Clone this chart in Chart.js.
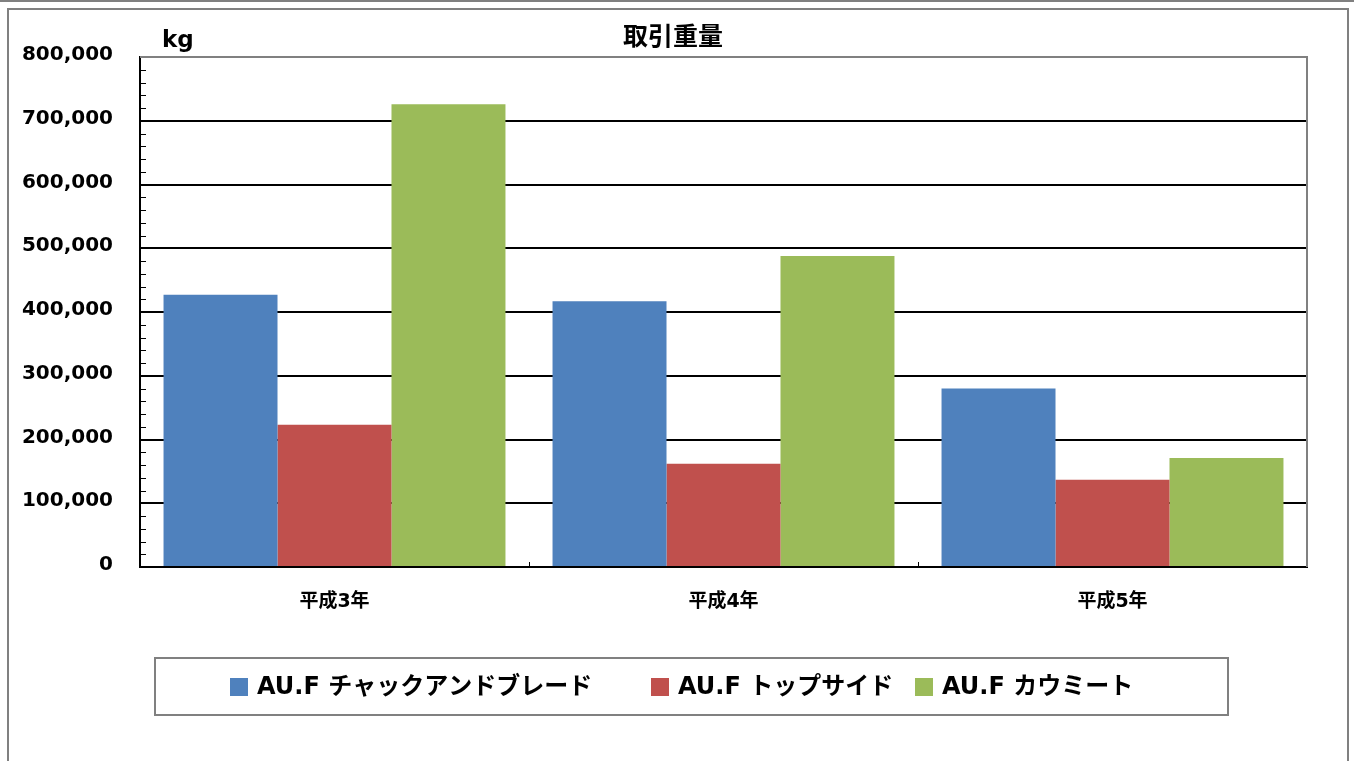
<!DOCTYPE html>
<html>
<head>
<meta charset="utf-8">
<script src="https://cdn.jsdelivr.net/npm/chart.js@4.4.1/dist/chart.umd.min.js"></script>
<style>
  html, body { margin: 0; padding: 0; background: #fff; overflow: hidden; }
  canvas { display: block; }
</style>
</head>
<body>
<canvas id="chart" width="1354" height="761"></canvas>
<script>
// ---- data ----
const categories = ['平成3年', '平成4年', '平成5年'];
const seriesNames = ['AU.F チャックアンドブレード', 'AU.F トップサイド', 'AU.F カウミート'];
const chuckAndBlade = [427000, 417000, 280000];
const topside = [223000, 162000, 137000];
const cowMeat = [726000, 488000, 171000];
const seriesColors = ['#4F81BD', '#C0504D', '#9BBB59'];
const yTickValues = [0, 100000, 200000, 300000, 400000, 500000, 600000, 700000, 800000];
const chartTitle = '取引重量';
const unitLabel = 'kg';

const FONT = '"DejaVu Sans", "Noto Sans CJK JP", sans-serif';
const GRAY = '#808080';

// outer frame around the whole chart
const framePlugin = {
  id: 'frame',
  beforeDraw(chart) {
    const ctx = chart.ctx;
    ctx.save();
    ctx.strokeStyle = GRAY;
    ctx.lineWidth = 2;
    ctx.beginPath();
    ctx.moveTo(0, 1); ctx.lineTo(chart.width, 1);
    ctx.stroke();
    ctx.strokeRect(8, 9, 1340, 800);
    ctx.restore();
  }
};

// plot border, minor ticks, category separators, title and unit
const decorPlugin = {
  id: 'decor',
  afterDraw(chart) {
    const ctx = chart.ctx;
    const a = chart.chartArea;
    const y = chart.scales.y;
    const x = chart.scales.x;
    ctx.save();
    // top and right border of plot area
    ctx.strokeStyle = GRAY;
    ctx.lineWidth = 2;
    ctx.beginPath();
    ctx.moveTo(a.left, a.top);
    ctx.lineTo(a.right, a.top);
    ctx.lineTo(a.right, a.bottom);
    ctx.stroke();
    // minor ticks on value axis
    ctx.strokeStyle = '#000';
    ctx.lineWidth = 1;
    ctx.beginPath();
    const step = 20000;
    for (let v = y.min; v <= y.max; v += step) {
      if (v % 100000 === 0) continue;
      const py = Math.round(y.getPixelForValue(v)) + 0.5;
      ctx.moveTo(a.left, py);
      ctx.lineTo(a.left + 6, py);
    }
    // separators between categories
    for (let i = 0; i < categories.length - 1; i++) {
      const px = Math.round((x.getPixelForTick(i) + x.getPixelForTick(i + 1)) / 2) + 0.5;
      ctx.moveTo(px, a.bottom);
      ctx.lineTo(px, a.bottom - 5);
    }
    ctx.stroke();
    // title and unit
    ctx.fillStyle = '#000';
    ctx.textBaseline = 'middle';
    ctx.textAlign = 'center';
    ctx.font = 'bold 25px ' + FONT;
    ctx.fillText(chartTitle, 673, 38);
    ctx.textAlign = 'left';
    ctx.textBaseline = 'alphabetic';
    ctx.font = 'bold 23px ' + FONT;
    ctx.fillText(unitLabel, 162, 47);
    ctx.restore();
  }
};

// boxed legend below the plot
const legendBoxPlugin = {
  id: 'legendBox',
  afterDraw(chart) {
    const ctx = chart.ctx;
    ctx.save();
    ctx.strokeStyle = GRAY;
    ctx.lineWidth = 2;
    ctx.strokeRect(155, 658, 1073, 57);
    const itemX = [230, 651, 915];
    ctx.font = 'bold 24px ' + FONT;
    ctx.textBaseline = 'alphabetic';
    ctx.textAlign = 'left';
    chart.data.datasets.forEach((ds, i) => {
      ctx.fillStyle = ds.backgroundColor;
      ctx.fillRect(itemX[i], 678, 18, 18);
      ctx.fillStyle = '#000';
      ctx.fillText(ds.label, itemX[i] + 27, 694);
    });
    ctx.restore();
  }
};

const datasets = [chuckAndBlade, topside, cowMeat].map((values, i) => ({
  label: seriesNames[i],
  data: values,
  backgroundColor: seriesColors[i],
  borderWidth: 0,
  categoryPercentage: 0.879,
  barPercentage: 1.0
}));

new Chart(document.getElementById('chart'), {
  type: 'bar',
  data: { labels: categories, datasets },
  options: {
    responsive: false,
    animation: false,
    devicePixelRatio: 1,
    layout: { padding: { left: 0, top: 57, right: 47, bottom: 0 } },
    plugins: {
      legend: { display: false },
      title: { display: false },
      tooltip: { enabled: false }
    },
    scales: {
      x: {
        grid: { display: false, drawTicks: false },
        border: { display: true, color: '#000', width: 2 },
        ticks: {
          color: '#000',
          padding: 24,
          font: { family: FONT, size: 19, weight: 'bold' }
        },
        afterFit(scale) { scale.height = 194; }
      },
      y: {
        min: 0,
        max: 800000,
        afterBuildTicks(scale) { scale.ticks = yTickValues.map(v => ({ value: v })); },
        grid: {
          drawTicks: false,
          lineWidth: 2,
          color: ctx => (ctx.tick && ctx.tick.value === 800000) ? 'rgba(0,0,0,0)' : '#000'
        },
        border: { display: true, color: '#000', width: 2 },
        ticks: {
          color: '#000',
          padding: 27,
          labelOffset: -2,
          font: { family: FONT, size: 20, weight: 'bold' },
          callback: v => Number(v).toLocaleString('en-US')
        },
        afterFit(scale) { scale.width = 140; }
      }
    }
  },
  plugins: [framePlugin, decorPlugin, legendBoxPlugin]
});
</script>
</body>
</html>
